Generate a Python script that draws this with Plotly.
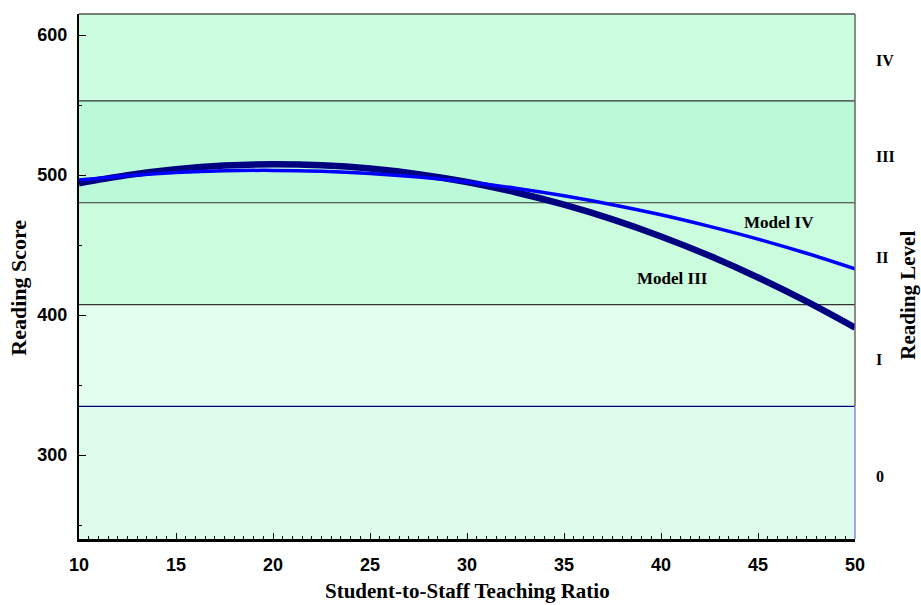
import plotly.graph_objects as go

# Data
ratio = [10, 12.5, 15, 17.5, 20, 22.5, 25, 27.5, 30, 32.5, 35, 37.5, 40, 42.5, 45, 47.5, 50]
model_iii = [494.0, 499.9, 504.1, 506.7, 507.6, 506.9, 504.6, 500.6, 495.0, 487.7, 478.8,
             468.3, 456.1, 442.3, 426.8, 409.7, 391.0]
model_iv = [496.4, 499.5, 501.7, 503.0, 503.3, 502.6, 501.0, 498.5, 495.0, 490.6, 485.2,
            478.8, 471.6, 463.3, 454.2, 444.1, 433.0]

# Reading proficiency level boundaries (score scale)
level_names = ["0", "I", "II", "III", "IV"]
level_bounds = [240, 334.75, 407.47, 480.18, 552.89, 615]
level_colors = ["#ddfcec", "#e2fdee", "#cbfcdd", "#bbfad8", "#ccfde0"]

y_range = [240, 615]
x_range = [10, 50]

SERIF = "Liberation Serif, Times New Roman, serif"
SANS = "Liberation Sans, Arial, sans-serif"

fig = go.Figure()

fig.add_trace(go.Scatter(x=ratio, y=model_iii, mode="lines", name="Model III",
                         line=dict(color="#000080", width=6.5, shape="spline"),
                         showlegend=False))
fig.add_trace(go.Scatter(x=ratio, y=model_iv, mode="lines", name="Model IV",
                         line=dict(color="#0000ff", width=3.5, shape="spline"),
                         showlegend=False))

shapes = []
for i in range(len(level_names)):
    shapes.append(dict(type="rect", xref="paper", yref="y", x0=0, x1=1,
                       y0=level_bounds[i], y1=level_bounds[i + 1],
                       fillcolor=level_colors[i], line=dict(width=0), layer="below"))
# boundary lines
for i, b in enumerate(level_bounds[1:-1]):
    col = "#000080" if i == 0 else "#333333"
    shapes.append(dict(type="line", xref="paper", yref="y", x0=0, x1=1, y0=b, y1=b,
                       line=dict(color=col, width=1.2), layer="below"))
# top border and right border
shapes.append(dict(type="line", xref="paper", yref="paper", x0=0, x1=1, y0=1, y1=1,
                   line=dict(color="black", width=1.2)))
shapes.append(dict(type="line", xref="paper", yref="y", x0=1, x1=1,
                   y0=level_bounds[1], y1=y_range[1],
                   line=dict(color="#666666", width=1.5)))
shapes.append(dict(type="line", xref="paper", yref="y", x0=1, x1=1,
                   y0=y_range[0], y1=level_bounds[1],
                   line=dict(color="#8a8ad8", width=1.5)))

annotations = []
for i, name in enumerate(level_names):
    yc = (level_bounds[i] + level_bounds[i + 1]) / 2
    annotations.append(dict(text=f"<b>{name}</b>", xref="paper", yref="y",
                            x=1.0245, y=yc + (-3 if i < 4 else -2), xanchor="left",
                            yanchor="middle", showarrow=False,
                            font=dict(family=SERIF, size=16, color="black")))
annotations.append(dict(text="<b>Model IV</b>", xref="x", yref="y", x=46.1, y=466,
                        showarrow=False, font=dict(family=SERIF, size=17, color="black")))
annotations.append(dict(text="<b>Model III</b>", xref="x", yref="y", x=40.6, y=426.4,
                        showarrow=False, font=dict(family=SERIF, size=17, color="black")))
annotations.append(dict(text="<b>Student-to-Staff Teaching Ratio</b>", xref="paper",
                        yref="paper", x=0.5, y=-0.099, xanchor="center", yanchor="middle",
                        showarrow=False, font=dict(family=SERIF, size=21, color="black")))
annotations.append(dict(text="<b>Reading Score</b>", xref="paper", yref="paper",
                        x=-0.079, y=0.478, xanchor="center", yanchor="middle",
                        textangle=-90, showarrow=False,
                        font=dict(family=SERIF, size=22, color="black")))
annotations.append(dict(text="<b>Reading Level</b>", xref="paper", yref="paper",
                        x=1.068, y=0.465, xanchor="center", yanchor="middle",
                        textangle=-90, showarrow=False,
                        font=dict(family=SERIF, size=21, color="black")))

fig.update_layout(
    width=921, height=605,
    margin=dict(l=79, r=66, t=14, b=66),
    paper_bgcolor="white", plot_bgcolor="white",
    shapes=shapes, annotations=annotations,
    xaxis=dict(range=x_range, dtick=5, tick0=10, ticks="inside", ticklen=6,
               tickcolor="black", tickwidth=1, showgrid=False, zeroline=False,
               showline=True, linecolor="black", linewidth=2.5,
               minor=dict(dtick=0.5, ticks="inside", ticklen=3, tickcolor="black",
                          showgrid=False),
               tickfont=dict(family=SANS, size=18, color="black", weight="bold"),
               ticklabelstandoff=8),
    yaxis=dict(range=y_range, tickvals=[300, 400, 500, 600], ticks="inside", ticklen=7,
               tickcolor="black", tickwidth=1, showgrid=False, zeroline=False,
               showline=True, linecolor="black", linewidth=2,
               minor=dict(tickvals=[250, 350, 450, 550], ticks="inside", ticklen=3,
                          tickcolor="black", showgrid=False),
               tickfont=dict(family=SANS, size=18, color="black", weight="bold"),
               ticklabelstandoff=6),
)

fig.write_html("out.html")
